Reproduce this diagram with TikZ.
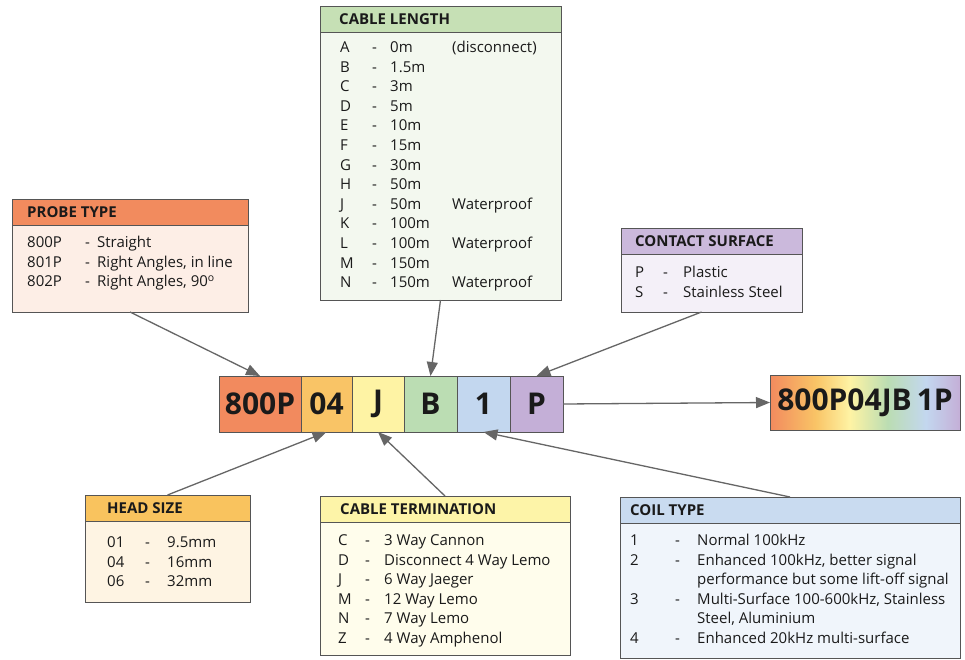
\documentclass[tikz,border=0pt]{standalone}
\usepackage{fontspec}
\setmainfont{Open Sans}
\usetikzlibrary{positioning,arrows.meta}

\definecolor{ink}{HTML}{1A1A1A}
\definecolor{edge}{HTML}{555555}
\definecolor{arrowgray}{HTML}{666666}
\definecolor{probehead}{HTML}{F28B5E}
\definecolor{probebody}{HTML}{FDEEE6}
\definecolor{lengthhead}{HTML}{C6E0B5}
\definecolor{lengthbody}{HTML}{F3F8EF}
\definecolor{surfhead}{HTML}{CBB9DC}
\definecolor{surfbody}{HTML}{F4F0F8}
\definecolor{sizehead}{HTML}{F9C35E}
\definecolor{sizebody}{HTML}{FEF4E3}
\definecolor{termhead}{HTML}{FDF4A8}
\definecolor{termbody}{HTML}{FFFDEC}
\definecolor{coilhead}{HTML}{C9DBF0}
\definecolor{coilbody}{HTML}{F0F5FB}
\definecolor{cellprobe}{HTML}{F28A5E}
\definecolor{cellsize}{HTML}{F9C466}
\definecolor{cellterm}{HTML}{FEF3A4}
\definecolor{celllength}{HTML}{BBDDB3}
\definecolor{cellcoil}{HTML}{C3D7EF}
\definecolor{cellsurf}{HTML}{C4AFD7}

\pgfdeclarehorizontalshading{spectrum}{100bp}{color(0bp)=(cellprobe); color(25bp)=(cellprobe);
  color(37bp)=(cellsize); color(46bp)=(cellterm); color(56bp)=(celllength);
  color(66bp)=(cellcoil); color(75bp)=(cellsurf); color(100bp)=(cellsurf)}

\begin{document}
\begin{tikzpicture}[x=1pt,y=-1pt,
    every node/.style={text=ink},
    panel/.style 2 args={draw=edge, line width=0.9pt, fill=#2, anchor=north west,
      inner sep=0pt, outer sep=0pt,
      path picture={
        \fill[#1] (path picture bounding box.north west) rectangle
          ([yshift=-26pt]path picture bounding box.north east);
        \draw[edge, line width=0.9pt] ([yshift=-26pt]path picture bounding box.north west) --
          ([yshift=-26pt]path picture bounding box.north east);}},
    head/.style={anchor=base west, inner sep=0pt, font=\fontsize{15}{18}\selectfont\bfseries},
    list/.style={anchor=base west, inner sep=0pt, font=\fontsize{15}{19.6}\selectfont},
    cell/.style={draw=edge, line width=0.9pt, minimum height=56pt, inner sep=0pt,
      outer sep=0pt, font=\fontsize{30}{34}\selectfont\bfseries},
    arrow/.style={draw=arrowgray, line width=1.3pt, -{Triangle[length=14pt,width=11pt]}}]

    \useasboundingbox[fill=white] (0,0) rectangle (965,660);

    % option panels
    \node[panel={lengthhead}{lengthbody}, minimum width=241pt, minimum height=294pt] (length) at (320,6) {};
    \node[head] (lengthtitle) at (339,24.5) {CABLE LENGTH};
    \node[list] (lengthlist) at (340,52.5) {\begin{tabular}[t]{@{}p{32pt}@{}p{18pt}@{}p{62pt}@{}l@{}}
      A & - & 0m & (disconnect)\\ B & - & 1.5m &\\ C & - & 3m &\\ D & - & 5m &\\
      E & - & 10m &\\ F & - & 15m &\\ G & - & 30m &\\ H & - & 50m &\\
      J & - & 50m & Waterproof\\ K & - & 100m &\\ L & - & 100m & Waterproof\\
      M & - & 150m &\\ N & - & 150m & Waterproof
    \end{tabular}};

    \node[panel={probehead}{probebody}, minimum width=236pt, minimum height=113pt] (probe) at (12,199) {};
    \node[head] (probetitle) at (27,217.5) {PROBE TYPE};
    \node[list] (probelist) at (27,247.5) {\begin{tabular}[t]{@{}p{58pt}@{}p{12pt}@{}l@{}}
      800P & - & Straight\\ 801P & - & Right Angles, in line\\
      802P & - & Right Angles, 90\textsuperscript{o}
    \end{tabular}};

    \node[panel={surfhead}{surfbody}, minimum width=181pt, minimum height=84pt] (surf) at (621,228) {};
    \node[head] (surftitle) at (635,246.5) {CONTACT SURFACE};
    \node[list] (surflist) at (635,277.5) {\begin{tabular}[t]{@{}p{28pt}@{}p{20pt}@{}l@{}}
      P & - & Plastic\\ S & - & Stainless Steel
    \end{tabular}};

    \node[panel={sizehead}{sizebody}, minimum width=165pt, minimum height=107pt] (size) at (85,495) {};
    \node[head] (sizetitle) at (107,513.5) {HEAD SIZE};
    \node[list] (sizelist) at (107,547.5) {\begin{tabular}[t]{@{}p{38pt}@{}p{22pt}@{}l@{}}
      01 & - & 9.5mm\\ 04 & - & 16mm\\ 06 & - & 32mm
    \end{tabular}};

    \node[panel={termhead}{termbody}, minimum width=250pt, minimum height=159pt] (term) at (320,496) {};
    \node[head] (termtitle) at (340,514.5) {CABLE TERMINATION};
    \node[list] (termlist) at (338,545.5) {\begin{tabular}[t]{@{}p{27pt}@{}p{19pt}@{}l@{}}
      C & - & 3 Way Cannon\\ D & - & Disconnect 4 Way Lemo\\ J & - & 6 Way Jaeger\\
      M & - & 12 Way Lemo\\ N & - & 7 Way Lemo\\ Z & - & 4 Way Amphenol
    \end{tabular}};

    \node[panel={coilhead}{coilbody}, minimum width=340pt, minimum height=161pt] (coil) at (620,497) {};
    \node[head] (coiltitle) at (630,515.5) {COIL TYPE};
    \node[list] (coillist) at (630,545.5) {\begin{tabular}[t]{@{}p{45pt}@{}p{22pt}@{}l@{}}
      1 & - & Normal 100kHz\\ 2 & - & Enhanced 100kHz, better signal\\
        &   & performance but some lift-off signal\\
      3 & - & Multi-Surface 100-600kHz, Stainless\\ & & Steel, Aluminium\\
      4 & - & Enhanced 20kHz multi-surface
    \end{tabular}};

    % part number strip
    \node[cell, fill=cellprobe, minimum width=82pt, anchor=north west] (probecode) at (219,376) {800P};
    \node[cell, fill=cellsize, minimum width=51pt, right=0pt of probecode] (sizecode) {04};
    \node[cell, fill=cellterm, minimum width=52pt, right=0pt of sizecode] (termcode) {J};
    \node[cell, fill=celllength, minimum width=53pt, right=0pt of termcode] (lengthcode) {B};
    \node[cell, fill=cellcoil, minimum width=53pt, right=0pt of lengthcode] (coilcode) {1};
    \node[cell, fill=cellsurf, minimum width=53pt, right=0pt of coilcode] (surfcode) {P};
    \node[cell, shading=spectrum, minimum width=190pt, minimum height=55pt, anchor=north west]
      (result) at (770,375) {800P04JB\,1P};

    \draw[arrow] (probe.south) -- (probecode.north);
    \draw[arrow] (length.south) -- (lengthcode.north);
    \draw[arrow] ([xshift=-10pt]surf.south) -- (surfcode.north);
    \draw[arrow] (size.north) -- (sizecode.south);
    \draw[arrow] (term.north) -- (termcode.south);
    \draw[arrow] (coil.north) -- (coilcode.south);
    \draw[arrow] (surfcode.east) -- (result.west);

\end{tikzpicture}
\end{document}
